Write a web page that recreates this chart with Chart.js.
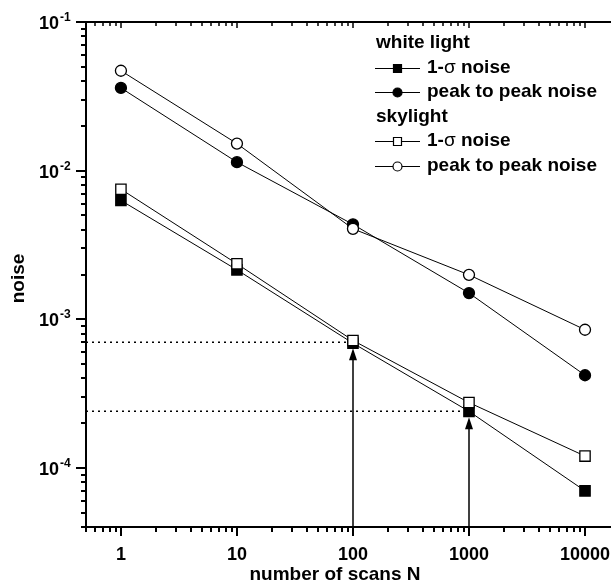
<!DOCTYPE html>
<html lang="en">
<head>
<meta charset="UTF-8">
<title>Noise vs number of scans</title>
<script src="https://cdn.jsdelivr.net/npm/chart.js@4"></script>
<style>
  html, body { margin: 0; padding: 0; background: #fff; }
  canvas { display: block; }
</style>
</head>
<body>
<canvas id="noiseChart" width="611" height="584"></canvas>
<script>
// number of averaged scans and the resulting noise levels
const scans = [1, 10, 100, 1000, 10000];
const whiteSigma = [6.3e-3, 2.15e-3, 6.9e-4, 2.4e-4, 7.0e-5];
const whitePeak = [3.6e-2, 1.14e-2, 4.35e-3, 1.5e-3, 4.2e-4];
const skySigma = [7.5e-3, 2.36e-3, 7.2e-4, 2.75e-4, 1.2e-4];
const skyPeak = [4.7e-2, 1.52e-2, 4.06e-3, 1.99e-3, 8.5e-4];

// highlighted points (arrow + dotted guide to the noise axis)
const markedScans = [100, 1000];
const markedNoise = [7.0e-4, 2.4e-4];

const xTickValues = [1, 10, 100, 1000, 10000];
const xTickLabels = ['1', '10', '100', '1000', '10000'];
const yTickExponents = [-1, -2, -3, -4];

const X_MIN = 0.5, X_MAX = 16750;
const Y_MIN = 4e-5, Y_MAX = 0.1;

const FONT = '"Liberation Sans", Arial, sans-serif';

function series(values, style, filled, order) {
  return {
    data: scans.map((s, i) => ({ x: s, y: values[i] })),
    borderColor: '#000',
    borderWidth: 1,
    pointStyle: style,
    pointRadius: style === 'rect' ? 7.3 : 5.5,
    pointBackgroundColor: filled ? '#000' : '#fff',
    pointBorderColor: '#000',
    pointBorderWidth: 1.3,
    order: order
  };
}

const guides = markedScans.map((s, i) => ({
  data: [{ x: X_MIN, y: markedNoise[i] }, { x: s, y: markedNoise[i] }],
  borderColor: '#000',
  borderWidth: 1.5,
  borderDash: [2, 4],
  pointRadius: 0,
  order: 10
}));

// legend rows: headings and entries
const legendRows = [
  { heading: 'white light' },
  { text: ['1-', 'σ', ' noise'], style: 'rect', filled: true },
  { text: ['peak to peak noise'], style: 'circle', filled: true },
  { heading: 'skylight' },
  { text: ['1-', 'σ', ' noise'], style: 'rect', filled: false },
  { text: ['peak to peak noise'], style: 'circle', filled: false }
];

function minorValues(min, max) {
  const out = [];
  for (let e = Math.floor(Math.log10(min)); e <= Math.ceil(Math.log10(max)); e++) {
    for (let m = 1; m <= 9; m++) {
      const v = m * Math.pow(10, e);
      if (v >= min * 0.999 && v <= max * 1.001) out.push({ v, major: m === 1 });
    }
  }
  return out;
}

function drawMarker(ctx, style, filled, cx, cy, r) {
  ctx.beginPath();
  if (style === 'rect') ctx.rect(cx - r, cy - r, 2 * r, 2 * r);
  else ctx.arc(cx, cy, r, 0, Math.PI * 2);
  ctx.fillStyle = filled ? '#000' : '#fff';
  ctx.fill();
  ctx.lineWidth = 1.2;
  ctx.strokeStyle = '#000';
  ctx.stroke();
}

const axisDecor = {
  id: 'axisDecor',
  afterDraw(chart) {
    const { ctx, chartArea: a } = chart;
    const x = chart.scales.x, y = chart.scales.y;
    ctx.save();
    ctx.strokeStyle = '#000';
    ctx.fillStyle = '#000';

    // frame: left, bottom and top lines
    ctx.lineWidth = 2;
    ctx.beginPath();
    ctx.moveTo(a.left, a.top);
    ctx.lineTo(a.left, a.bottom);
    ctx.lineTo(a.right, a.bottom);
    ctx.moveTo(a.left, a.top);
    ctx.lineTo(a.right, a.top);
    ctx.stroke();

    // x ticks (outward at the bottom, inward at the top)
    minorValues(X_MIN, X_MAX).forEach(t => {
      const px = Math.round(x.getPixelForValue(t.v));
      ctx.lineWidth = 2;
      ctx.beginPath();
      ctx.moveTo(px, a.bottom);
      ctx.lineTo(px, a.bottom + (t.major ? 9 : 5));
      ctx.stroke();
      ctx.lineWidth = 1.5;
      ctx.beginPath();
      ctx.moveTo(px, a.top);
      ctx.lineTo(px, a.top + (t.major ? 6 : 4));
      ctx.stroke();
    });

    // y ticks (outward on the left)
    minorValues(Y_MIN, Y_MAX).forEach(t => {
      const py = Math.round(y.getPixelForValue(t.v));
      ctx.lineWidth = 2;
      ctx.beginPath();
      ctx.moveTo(a.left, py);
      ctx.lineTo(a.left - (t.major ? 10 : 5), py);
      ctx.stroke();
    });

    // x tick labels
    ctx.font = 'bold 18px ' + FONT;
    ctx.textAlign = 'center';
    ctx.textBaseline = 'middle';
    xTickValues.forEach((v, i) => {
      ctx.fillText(xTickLabels[i], x.getPixelForValue(v), a.bottom + 28);
    });

    // y tick labels as powers of ten
    yTickExponents.forEach(e => {
      const py = y.getPixelForValue(Math.pow(10, e));
      const baseRight = a.left - 27;
      ctx.font = 'bold 18px ' + FONT;
      ctx.textAlign = 'right';
      ctx.textBaseline = 'middle';
      ctx.fillText('10', baseRight, py + 2);
      ctx.font = 'bold 12px ' + FONT;
      ctx.textAlign = 'left';
      ctx.textBaseline = 'alphabetic';
      ctx.fillText('-' + Math.abs(e), baseRight + 1, py - 1);
    });

    // axis titles
    ctx.font = 'bold 19px ' + FONT;
    ctx.textAlign = 'center';
    ctx.textBaseline = 'middle';
    ctx.fillText('number of scans N', 335, a.bottom + 48);
    ctx.save();
    ctx.translate(19, (a.top + a.bottom) / 2 + 4);
    ctx.rotate(-Math.PI / 2);
    ctx.fillText('noise', 0, 0);
    ctx.restore();

    // arrows pointing up to the marked points
    markedScans.forEach((s, i) => {
      const px = Math.round(x.getPixelForValue(s));
      const tip = y.getPixelForValue(markedNoise[i]) + 6;
      ctx.lineWidth = 1.5;
      ctx.beginPath();
      ctx.moveTo(px, a.bottom);
      ctx.lineTo(px, tip + 8);
      ctx.stroke();
      ctx.beginPath();
      ctx.moveTo(px, tip);
      ctx.lineTo(px - 4, tip + 12);
      ctx.lineTo(px + 4, tip + 12);
      ctx.closePath();
      ctx.fill();
    });

    // legend
    const rowY0 = 43, rowStep = 24.5;
    ctx.textAlign = 'left';
    ctx.textBaseline = 'middle';
    legendRows.forEach((row, i) => {
      const ry = rowY0 + i * rowStep;
      ctx.fillStyle = '#000';
      if (row.heading) {
        ctx.font = 'bold 19px ' + FONT;
        ctx.fillText(row.heading, 376, ry);
        return;
      }
      ctx.lineWidth = 1;
      ctx.strokeStyle = '#000';
      ctx.beginPath();
      ctx.moveTo(375, Math.round(ry) + 0.5);
      ctx.lineTo(420, Math.round(ry) + 0.5);
      ctx.stroke();
      drawMarker(ctx, row.style, row.filled, 397.5, Math.round(ry) + 0.5, row.style === 'rect' ? 4 : 4.5);
      let tx = 427;
      ctx.fillStyle = '#000';
      row.text.forEach(part => {
        ctx.font = (part === 'σ' ? '' : 'bold ') + '19px ' + FONT;
        ctx.fillText(part, tx, ry);
        tx += ctx.measureText(part).width;
      });
    });

    ctx.restore();
  }
};

new Chart(document.getElementById('noiseChart'), {
  type: 'line',
  data: {
    datasets: [
      ...guides,
      series(whiteSigma, 'rect', true, 3),
      series(whitePeak, 'circle', true, 3),
      series(skySigma, 'rect', false, 1),
      series(skyPeak, 'circle', false, 1)
    ]
  },
  options: {
    responsive: false,
    animation: false,
    layout: { autoPadding: false, padding: { left: 86, top: 22, right: 0, bottom: 57 } },
    plugins: { legend: { display: false }, tooltip: { enabled: false } },
    elements: { line: { tension: 0 } },
    scales: {
      x: {
        type: 'logarithmic', min: X_MIN, max: X_MAX,
        ticks: { display: false },
        grid: { display: false, drawTicks: false, tickLength: 0 },
        border: { display: false }
      },
      y: {
        type: 'logarithmic', min: Y_MIN, max: Y_MAX,
        ticks: { display: false },
        grid: { display: false, drawTicks: false, tickLength: 0 },
        border: { display: false }
      }
    }
  },
  plugins: [axisDecor]
});
</script>
</body>
</html>
